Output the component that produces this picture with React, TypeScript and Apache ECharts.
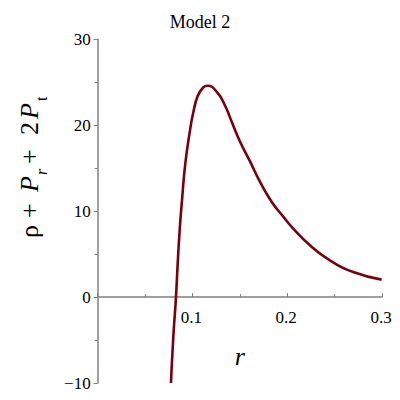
import React, { useEffect, useRef } from "react";
import * as echarts from "echarts";

const rValues = [0.0773, 0.0798, 0.0826, 0.0844, 0.0865, 0.0892, 0.0924, 0.0974, 0.1005, 0.1055, 0.1114, 0.116, 0.1255, 0.1343, 0.1414, 0.1501, 0.1607, 0.1713, 0.1835, 0.1958, 0.2063, 0.224, 0.245, 0.2696, 0.2996];
const sumValues = [-10, -4.6, 0, 3.9, 7.8, 11.6, 15.5, 19.4, 21.3, 23.4, 24.4, 24.6, 23.9, 22.3, 20.4, 18.1, 15.8, 13.4, 11.1, 9.36, 7.97, 6.02, 4.28, 2.92, 2.03];
const rTickLabels = ["0.1", "0.2", "0.3"];
const titleText = "Model 2";
const xName = "r";

const FONT = "'Liberation Serif', 'DejaVu Serif', serif";
const AXIS_COLOR = "#808080";
const LINE_COLOR = "#78000E";

const GRID_TOP = 39.3;
const GRID_BOTTOM = 17;
const Y_MIN = -10;
const Y_MAX = 30;

export default function App() {
  const ref = useRef<HTMLDivElement>(null);
  useEffect(() => {
    document.body.style.margin = "0";
    const chart = echarts.init(ref.current!, null, { renderer: "svg" });
    const gridH = 400 - GRID_TOP - GRID_BOTTOM;
    const zeroOffset = (gridH * (0 - Y_MIN)) / (Y_MAX - Y_MIN);
    const main = { fontFamily: FONT, fontSize: 26, fill: "#000" };
    const pieces = [
      { t: "\u03c1", x: 0, y: 0, italic: false, size: 26 },
      { t: "+", x: 20, y: 0, italic: false, size: 26 },
      { t: "P", x: 46, y: 0, italic: true, size: 26 },
      { t: "r", x: 63, y: 12, italic: true, size: 16 },
      { t: "+", x: 74, y: 0, italic: false, size: 26 },
      { t: "2", x: 103, y: 0, italic: false, size: 26 },
      { t: "P", x: 119, y: 0, italic: true, size: 26 },
      { t: "t", x: 137, y: 12, italic: false, size: 16 },
    ];
    chart.setOption({
      animation: false,
      title: {
        text: titleText,
        left: "center",
        top: 8,
        textStyle: { fontFamily: FONT, fontSize: 18, fontWeight: "normal", color: "#000" },
      },
      grid: { left: 97.7, right: 18, top: GRID_TOP, bottom: GRID_BOTTOM, containLabel: false, outerBoundsMode: "none" },
      xAxis: {
        type: "value",
        min: 0,
        max: 0.3,
        interval: 0.1,
        name: xName,
        nameLocation: "middle",
        nameGap: 46 - zeroOffset,
        nameTextStyle: { fontFamily: FONT, fontSize: 26, fontStyle: "italic", color: "#000" },
        axisLine: { onZero: true, lineStyle: { color: AXIS_COLOR, width: 1.5 } },
        axisTick: { show: true, inside: true, length: 4, lineStyle: { color: AXIS_COLOR, width: 1 } },
        minorTick: { show: true, splitNumber: 2, length: 3, lineStyle: { color: AXIS_COLOR, width: 1 } },
        axisLabel: { show: false },
        splitLine: { show: false },
      },
      yAxis: {
        type: "value",
        min: Y_MIN,
        max: Y_MAX,
        interval: 10,
        axisLine: { show: true, onZero: false, lineStyle: { color: AXIS_COLOR, width: 1.5 } },
        axisTick: { show: true, length: 4, lineStyle: { color: AXIS_COLOR, width: 1 } },
        minorTick: { show: true, splitNumber: 2, length: 3, lineStyle: { color: AXIS_COLOR, width: 1 } },
        axisLabel: {
          margin: 7,
          fontFamily: FONT,
          fontSize: 17,
          color: "#000",
          formatter: (v: number) => (v < 0 ? "\u2212" + Math.abs(v) : String(v)),
        },
        splitLine: { show: false },
      },
      series: [
        {
          type: "line",
          data: rValues.map((r, i) => [r, sumValues[i]]),
          smooth: true,
          showSymbol: false,
          lineStyle: { color: LINE_COLOR, width: 2.6 },
          itemStyle: { color: LINE_COLOR },
        },
      ],
    });
    const tickTexts = rTickLabels.map((lab) => {
      const p = chart.convertToPixel({ xAxisIndex: 0, yAxisIndex: 0 }, [Number(lab), 0]) as number[];
      return {
        type: "text",
        x: p[0] - 1,
        y: p[1] + 12,
        style: {
          text: lab,
          fontFamily: FONT,
          fontSize: 17,
          fill: "#000",
          align: "center",
          verticalAlign: "top",
        },
      };
    });
    chart.setOption({
      graphic: [
        {
          type: "group",
          x: 29,
          y: 238,
          rotation: Math.PI / 2,
          children: pieces.map((p) => ({
            type: "text",
            x: p.x,
            y: p.y,
            style: {
              ...main,
              text: p.t,
              fontSize: p.size,
              fontStyle: p.italic ? "italic" : "normal",
              align: "left",
              verticalAlign: "middle",
            },
          })),
        },
        ...tickTexts,
      ],
    });
    return () => chart.dispose();
  }, []);
  return <div ref={ref} style={{ width: 400, height: 400 }} />;
}
